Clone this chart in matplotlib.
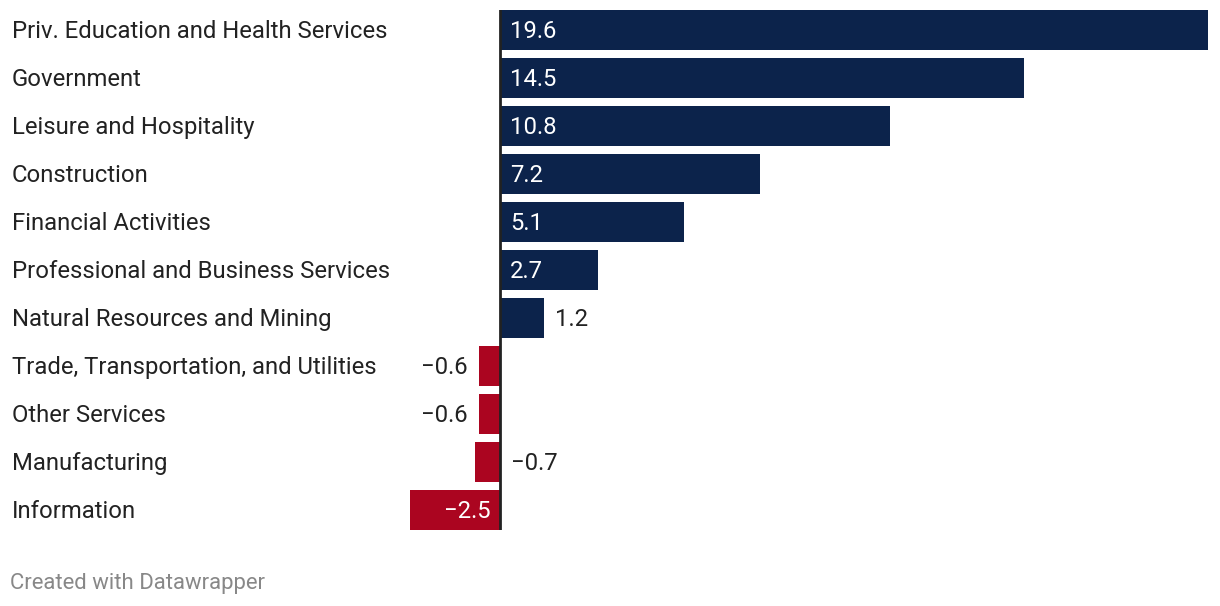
import matplotlib
matplotlib.use("Agg")
import matplotlib.pyplot as plt
import matplotlib.transforms as mtransforms

plt.rcParams["font.family"] = ["Roboto", "DejaVu Sans"]

# change by sector
sectors = [
    "Priv. Education and Health Services",
    "Government",
    "Leisure and Hospitality",
    "Construction",
    "Financial Activities",
    "Professional and Business Services",
    "Natural Resources and Mining",
    "Trade, Transportation, and Utilities",
    "Other Services",
    "Manufacturing",
    "Information",
]
values = [19.6, 14.5, 10.8, 7.2, 5.1, 2.7, 1.2, -0.6, -0.6, -0.7, -2.5]
value_labels = ["19.6", "14.5", "10.8", "7.2", "5.1", "2.7", "1.2",
                "\u22120.6", "\u22120.6", "\u22120.7", "\u22122.5"]

NAVY = "#0c234b"
RED = "#ab0520"
TEXT = "#222222"

W, H = 1220, 606
fig = plt.figure(figsize=(W / 100, H / 100), dpi=100)
# plot area in pixels: x 410..1208, y 10..530
ax = fig.add_axes([410 / W, (H - 530) / H, (1208 - 410) / W, 520 / H])

bar_h = 40 / 48
colors = [NAVY if v >= 0 else RED for v in values]
ax.barh(range(len(values)), values, height=bar_h, color=colors)
ax.set_xlim(min(values), max(values))
ax.set_ylim(len(values) - 1 + bar_h / 2, -bar_h / 2)
ax.axvline(0, color=TEXT, lw=2, zorder=5)
ax.axis("off")

fs = 17.2
dy = -1.5  # nudge text down a little
ylab = mtransforms.blended_transform_factory(fig.transFigure, ax.transData)
ylab = mtransforms.offset_copy(ylab, fig=fig, y=dy, units="dots")
for i, name in enumerate(sectors):
    fig.text(12 / W, i, name, transform=ylab, ha="left", va="center",
             fontsize=fs, color=TEXT)


def shifted(px):
    return mtransforms.offset_copy(ax.transData, fig=fig, x=px, y=dy,
                                   units="dots")


for i, (v, lab) in enumerate(zip(values, value_labels)):
    if abs(v) >= 2:
        # inside the bar, next to the zero line
        if v > 0:
            ax.text(0, i, lab, transform=shifted(10), color="white",
                    ha="left", va="center", fontsize=fs)
        else:
            ax.text(0, i, lab, transform=shifted(-10), color="white",
                    ha="right", va="center", fontsize=fs)
    elif v > 0 or sectors[i] == "Manufacturing":
        ax.text(max(v, 0), i, lab, transform=shifted(11), color=TEXT,
                ha="left", va="center", fontsize=fs)
    else:
        ax.text(v, i, lab, transform=shifted(-11), color=TEXT,
                ha="right", va="center", fontsize=fs)

fig.text(10 / W, (H - 583) / H, "Created with Datawrapper", ha="left",
         va="center", fontsize=15.9, color="#888888")

fig.savefig("out.png", dpi=100)
